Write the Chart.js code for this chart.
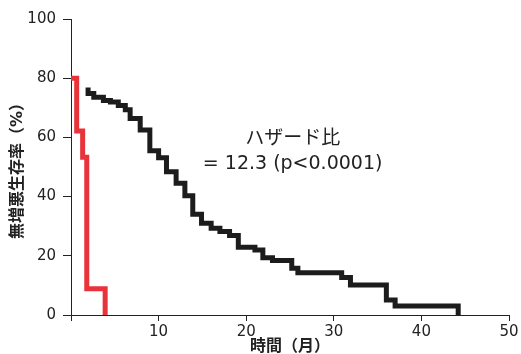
<!DOCTYPE html>
<html>
<head>
<meta charset="utf-8">
<script src="https://cdn.jsdelivr.net/npm/chart.js@4"></script>
<style>
  body { margin: 0; background: #fff; }
  #wrap { width: 521px; height: 354px; }
</style>
</head>
<body>
<div id="wrap"><canvas id="chart"></canvas></div>
<script>
// KM curves: time (months) where the step happens, survival after it
const redTimes = [0, 0.65, 1.33, 1.8, 3.9];
const redSurv = [80, 62.2, 53.3, 8.9, 0];

const blackTimes = [1.95, 1.95, 2.6, 3.7, 4.5, 5.4, 6.2, 6.75, 7.9, 9.0, 10.0, 10.9, 12.0, 13.0, 13.9, 14.9, 16.0, 17.0, 18.1, 19.1, 21.0, 21.9, 23.0, 25.2, 25.9, 30.9, 31.9, 36.0, 37.0, 44.2];
const blackSurv = [76.9, 74.8, 73.6, 72.5, 72.0, 70.8, 69.3, 66.4, 62.5, 55.5, 53.1, 48.4, 44.5, 40.3, 34.0, 31.0, 29.3, 28.2, 26.9, 22.9, 22.0, 19.3, 18.4, 15.8, 14.3, 12.7, 10.1, 5.1, 3.0, 0];

const xTicks = [10, 20, 30, 40, 50];
const yTicks = [0, 20, 40, 60, 80, 100];

const hrLines = ["ハザード比", "= 12.3 (p<0.0001)"];

const font = "'DejaVu Sans', 'Noto Sans CJK JP', sans-serif";
const ink = "#222";

function toPoints(xs, ys) {
  return xs.map((x, i) => ({ x: x, y: ys[i] }));
}

// hazard ratio note, placed in data units
const hrNote = {
  id: "hrNote",
  afterDatasetsDraw(chart) {
    const ctx = chart.ctx;
    const xs = chart.scales.x, ys = chart.scales.y;
    ctx.save();
    ctx.fillStyle = ink;
    ctx.font = "19px " + font;
    ctx.textAlign = "center";
    ctx.textBaseline = "middle";
    ctx.fillText(hrLines[0], xs.getPixelForValue(25.3), ys.getPixelForValue(59.5));
    ctx.fillText(hrLines[1], xs.getPixelForValue(25.3), ys.getPixelForValue(51));
    ctx.restore();
  }
};

new Chart(document.getElementById("chart"), {
  type: "line",
  data: {
    datasets: [
      {
        data: toPoints(blackTimes, blackSurv),
        borderColor: "#1c1c1c",
        borderWidth: 5,
        stepped: true,
        pointRadius: 0,
        borderJoinStyle: "miter",
        fill: false
      },
      {
        data: toPoints(redTimes, redSurv),
        borderColor: "#e8333a",
        borderWidth: 5,
        stepped: true,
        pointRadius: 0,
        borderJoinStyle: "miter",
        fill: false
      }
    ]
  },
  options: {
    responsive: true,
    maintainAspectRatio: false,
    animation: false,
    layout: { padding: { top: 19, right: 12, left: 0, bottom: 0 } },
    plugins: {
      legend: { display: false },
      tooltip: { enabled: false }
    },
    scales: {
      x: {
        type: "linear",
        min: 0,
        max: 50,
        afterBuildTicks: s => { s.ticks = [0].concat(xTicks).map(v => ({ value: v })); },
        afterFit: s => { s.height = 39; },
        ticks: {
          color: ink,
          font: { family: font, size: 15 },
          padding: 2,
          maxRotation: 0,
          callback: v => (v === 0 ? "" : v)
        },
        grid: { drawOnChartArea: false, color: ink, tickLength: 6 },
        border: { color: ink, width: 1 },
        title: {
          display: true,
          text: "時間（月）",
          color: ink,
          font: { family: font, size: 16, weight: "bold", lineHeight: 1 },
          padding: { top: 0, bottom: -1 }
        }
      },
      y: {
        min: 0,
        max: 100,
        afterBuildTicks: s => { s.ticks = yTicks.map(v => ({ value: v })); },
        afterFit: s => { s.width = 71; },
        ticks: {
          color: ink,
          font: { family: font, size: 15 },
          padding: 7
        },
        grid: { drawOnChartArea: false, color: ink, tickLength: 8 },
        border: { color: ink, width: 1 },
        title: {
          display: true,
          text: "無増悪生存率（%）",
          color: ink,
          font: { family: font, size: 16, weight: "bold", lineHeight: 1 },
          padding: { top: 10, bottom: 0 }
        }
      }
    }
  },
  plugins: [hrNote]
});
</script>
</body>
</html>
